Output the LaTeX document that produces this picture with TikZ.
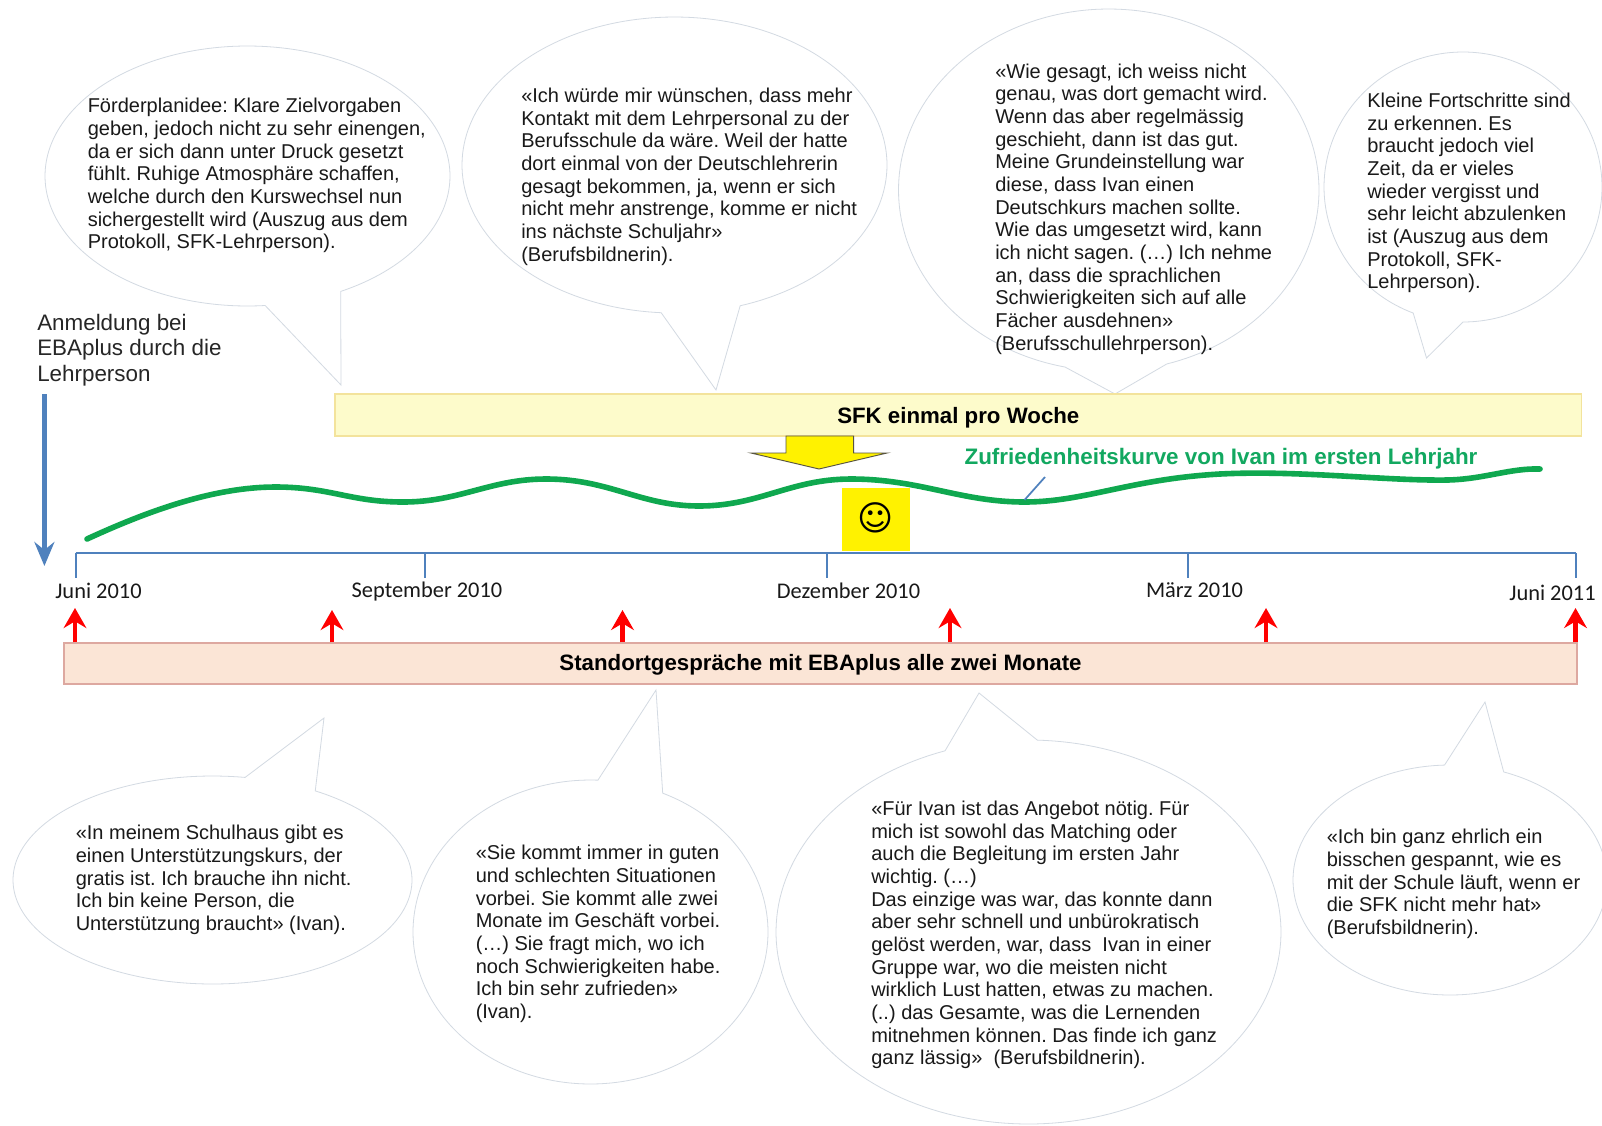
\documentclass[tikz,border=0pt]{standalone}
\usepackage{fontspec}
\setmainfont{Liberation Sans}
\newfontfamily\calfont{Carlito}
\newfontfamily\dejafont{DejaVu Sans}
\usetikzlibrary{arrows.meta}
\definecolor{bubbleline}{HTML}{D3DAE2}
\definecolor{axisblue}{HTML}{4F81BD}
\definecolor{curvegreen}{HTML}{0FA84F}
\definecolor{labelgreen}{HTML}{12A860}
\definecolor{sfkfill}{HTML}{FDFBCB}
\definecolor{sfkline}{HTML}{F3E39C}
\definecolor{talkfill}{HTML}{FBE5D6}
\definecolor{talkline}{HTML}{DDA8A0}
\tikzset{
  bubbleshape/.style={draw=bubbleline,fill=white,line width=0.6pt,line join=miter},
  bubbletext/.style={anchor=west,inner sep=0pt,align=left,text=black!90,font=\frenchspacing\fontsize{15}{17}\selectfont},
  regtext/.style={anchor=west,inner sep=0pt,align=left,text=black!85,font=\fontsize{16.8}{19}\selectfont},
  monthlabel/.style={inner sep=0pt,text=black!90,font=\calfont\fontsize{16.8}{18}\selectfont},
  barlabel/.style={font=\bfseries\fontsize{16.7}{18}\selectfont,text=black,inner sep=0pt},
  sfkbar/.style={draw=sfkline,fill=sfkfill,line width=0.9pt,minimum width=935pt,minimum height=31.5pt},
  talkbar/.style={draw=talkline,fill=talkfill,line width=0.9pt,minimum width=1134.75pt,minimum height=30.75pt},
  axisline/.style={draw=axisblue,line width=1.5pt},
  redarrow/.style={draw=red,line width=3.4pt,-{Stealth[length=15pt,width=17pt,inset=5pt]}},
  regarrow/.style={draw=axisblue,line width=3.6pt,-{Stealth[length=18pt,width=15pt,inset=6pt]}},
}
% cx cy rx ry a1 a2 tipx tipy
\newcommand{\speechbubble}[8]{%
  \draw[bubbleshape] plot[domain=#6:#5+360,samples=180] ({#1+#3*cos(\x)},{#2+#4*sin(\x)}) -- (#7,#8) -- cycle;}
\begin{document}
\begin{tikzpicture}[x=0.75pt,y=-0.75pt]
\useasboundingbox (0,0) rectangle (1602,1125);
\fill[white] (0,0) rectangle (1602,1125);
% top bubbles
\speechbubble{247.5}{176}{202.5}{130}{62.6}{85}{341}{385}
\speechbubble{674.5}{165}{212.5}{148}{72}{93.6}{716}{390}
\speechbubble{1108.75}{190}{210.25}{181}{74}{102}{1115}{394}
\speechbubble{1463}{187}{139}{135}{90}{111}{1426.5}{358}
% bottom bubbles
\speechbubble{212.5}{880}{199.5}{104}{279.4}{301}{324}{718}
\speechbubble{590.5}{932}{177.5}{152}{272.4}{294}{656}{690}
\speechbubble{1028.5}{932}{252.5}{192}{250.7}{272}{979}{693}
\speechbubble{1450}{880}{157}{115}{268}{290}{1485}{702}
% bubble texts
\node[bubbletext] (t1) at (87.5,175.5) {Förderplanidee: Klare Zielvorgaben\\geben, jedoch nicht zu sehr einengen,\\da er sich dann unter Druck gesetzt\\fühlt. Ruhige Atmosphäre schaffen,\\welche durch den Kurswechsel nun\\sichergestellt wird (Auszug aus dem\\Protokoll, SFK-Lehrperson).};
\node[bubbletext] (t2) at (521,176.5) {«Ich würde mir wünschen, dass mehr\\Kontakt mit dem Lehrpersonal zu der\\Berufsschule da wäre. Weil der hatte\\dort einmal von der Deutschlehrerin\\gesagt bekommen, ja, wenn er sich\\nicht mehr anstrenge, komme er nicht\\ins nächste Schuljahr»\\(Berufsbildnerin).};
\node[bubbletext] (t3) at (995,209) {«Wie gesagt, ich weiss nicht\\genau, was dort gemacht wird.\\Wenn das aber regelmässig\\geschieht, dann ist das gut.\\Meine Grundeinstellung war\\diese, dass Ivan einen\\Deutschkurs machen sollte.\\Wie das umgesetzt wird, kann\\ich nicht sagen. (…) Ich nehme\\an, dass die sprachlichen\\Schwierigkeiten sich auf alle\\Fächer ausdehnen»\\(Berufsschullehrperson).};
\node[bubbletext] (t4) at (1367,193) {Kleine Fortschritte sind\\zu erkennen. Es\\braucht jedoch viel\\Zeit, da er vieles\\wieder vergisst und\\sehr leicht abzulenken\\ist (Auszug aus dem\\Protokoll, SFK-\\Lehrperson).};
\node[bubbletext] (t5) at (75.5,880) {«In meinem Schulhaus gibt es\\einen Unterstützungskurs, der\\gratis ist. Ich brauche ihn nicht.\\Ich bin keine Person, die\\Unterstützung braucht» (Ivan).};
\node[bubbletext] (t6) at (475.5,934) {«Sie kommt immer in guten\\und schlechten Situationen\\vorbei. Sie kommt alle zwei\\Monate im Geschäft vorbei.\\(…) Sie fragt mich, wo ich\\noch Schwierigkeiten habe.\\Ich bin sehr zufrieden»\\(Ivan).};
\node[bubbletext] (t7) at (871,935) {«Für Ivan ist das Angebot nötig. Für\\mich ist sowohl das Matching oder\\auch die Begleitung im ersten Jahr\\wichtig. (…)\\Das einzige was war, das konnte dann\\aber sehr schnell und unbürokratisch\\gelöst werden, war, dass\ \ Ivan in einer\\Gruppe war, wo die meisten nicht\\wirklich Lust hatten, etwas zu machen.\\(..) das Gesamte, was die Lernenden\\mitnehmen können. Das finde ich ganz\\ganz lässig»\ \ (Berufsbildnerin).};
\node[bubbletext] (t8) at (1326.5,884) {«Ich bin ganz ehrlich ein\\bisschen gespannt, wie es\\mit der Schule läuft, wenn er\\die SFK nicht mehr hat»\\(Berufsbildnerin).};
% registration
\node[regtext] (reg) at (37,350) {Anmeldung bei\\EBAplus durch die\\Lehrperson};
\coordinate (regtop) at (44.4,394);
\coordinate (regend) at (44.4,566);
\draw[regarrow] (regtop) -- (regend);
% bars
\node[sfkbar] (sfk) at (958.3,415) {};
\node[barlabel] at ([yshift=-2pt]sfk.center) {SFK einmal pro Woche};
\node[talkbar] (talk) at (820.5,663.5) {};
\node[barlabel] at ([yshift=-0.8pt]talk.center) {Standortgespräche mit EBAplus alle zwei Monate};
% yellow block arrow
\draw[draw=black!75!yellow,line width=0.7pt,fill=yellow,line join=miter] (786,436) -- (853.6,436) -- (853.6,453) -- (887,453) -- (819,469) -- (751,453) -- (786,453) -- cycle;
% smiley
\fill[yellow] (842,488) rectangle (910,551);
\node[inner sep=0pt,font=\dejafont\fontsize{26}{26}\selectfont] (smile) at (876,518) {☺};
% curve
\draw[curvegreen,line width=4.2pt,line cap=round] (87,539)
  .. controls (150,510) and (215,487) .. (275.5,487)
  .. controls (330,487) and (350,502) .. (403,502)
  .. controls (460,502) and (490,479) .. (546,479)
  .. controls (610,479) and (640,506) .. (699,506)
  .. controls (760,506) and (790,479) .. (851,479)
  .. controls (920,479) and (960,502) .. (1024.5,502)
  .. controls (1085,502) and (1130,479) .. (1220,474)
  .. controls (1300,470) and (1385,481) .. (1448,480)
  .. controls (1485,479) and (1510,468) .. (1540,469);
\coordinate (pointerA) at (1045,477);
\coordinate (pointerB) at (1024.5,500);
\draw[axisblue,line width=1.3pt] (pointerA) -- (pointerB);
\node[inner sep=0pt,text=labelgreen,font=\bfseries\fontsize{16.8}{18}\selectfont] (curvelabel) at (1221,459) {Zufriedenheitskurve von Ivan im ersten Lehrjahr};
% axis
\coordinate (ax0) at (75.5,553);
\coordinate (ax1) at (424.5,553);
\coordinate (ax2) at (827,553);
\coordinate (ax3) at (1188,553);
\coordinate (ax4) at (1575.5,553);
\draw[axisline] (ax0) -- (ax4);
\foreach \a in {ax0,ax1,ax2,ax3,ax4}{\draw[axisline] (\a) -- ++(0,25);}
\node[monthlabel] (m0) at (98.5,591) {Juni 2010};
\node[monthlabel] (m1) at (427,592) {September 2010};
\node[monthlabel] (m2) at (848.5,591) {Dezember 2010};
\node[monthlabel] (m3) at (1194.5,590) {März 2010};
\node[monthlabel] (m4) at (1552.5,593) {Juni 2011};
% red arrows
\coordinate (r1) at (75,608);
\coordinate (r2) at (332,610);
\coordinate (r3) at (622.5,610);
\coordinate (r4) at (950,608);
\coordinate (r5) at (1266,608);
\coordinate (r6) at (1575.5,608);
\foreach \a in {r1,r2,r3,r4,r5,r6}{\draw[redarrow] (\a |- talk.north) -- (\a);}
\end{tikzpicture}
\end{document}
